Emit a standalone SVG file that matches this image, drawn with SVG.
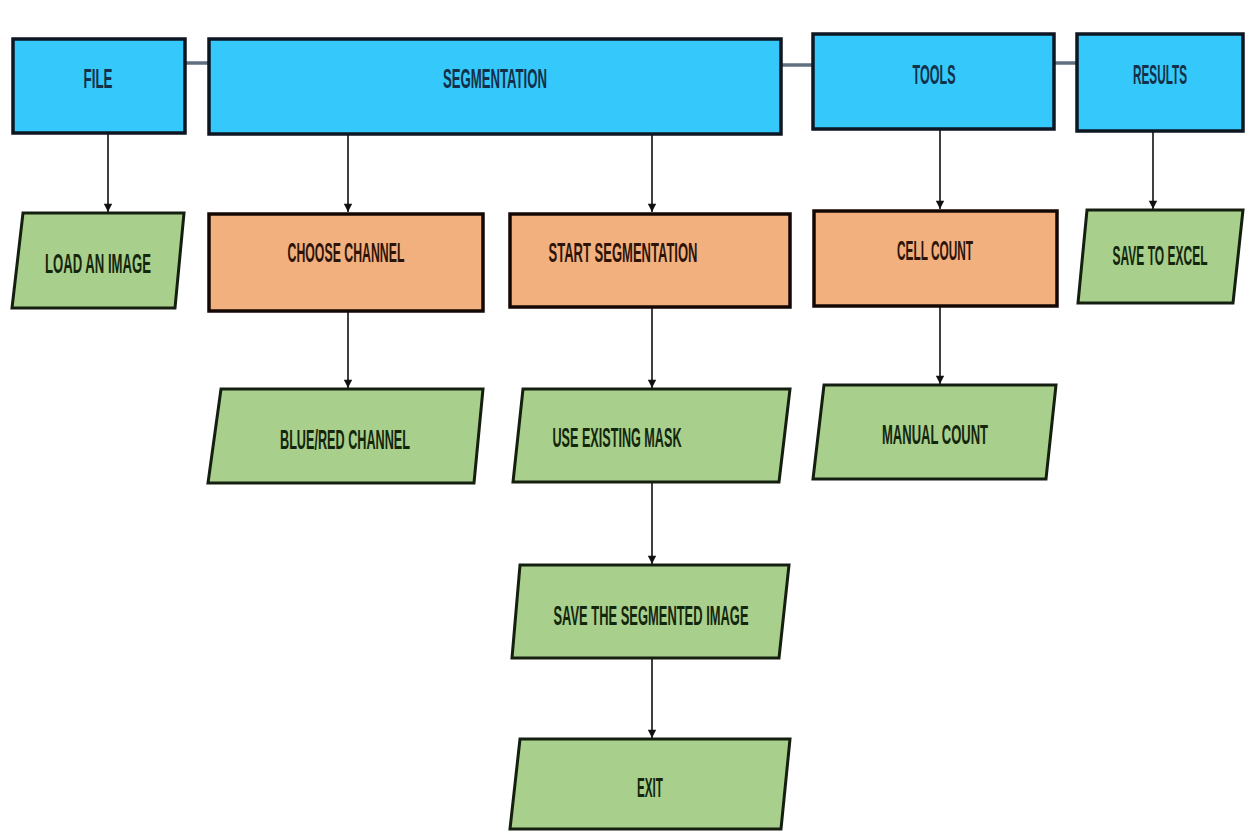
<svg xmlns="http://www.w3.org/2000/svg" width="1246" height="832" viewBox="0 0 1246 832">
  <defs>
    <marker id="arrow" viewBox="0 0 10 12" refX="10" refY="6" markerWidth="9" markerHeight="10" markerUnits="userSpaceOnUse" orient="auto">
      <path d="M0,1 L10,6 L0,11 Z" fill="#111"/>
    </marker>
    <style>
      .menu { fill: #35c9fb; stroke: #0e1622; stroke-width: 3.5; }
      .action { fill: #f3b07f; stroke: #140804; stroke-width: 3.5; }
      .io { fill: #a8d08c; stroke: #151f10; stroke-width: 3; }
      .label { font-family: "Liberation Sans Narrow", "Liberation Sans", Arial, sans-serif; font-weight: bold; font-size: 28px; text-anchor: middle; }
      .menu-t { fill: #14304a; }
      .action-t { fill: #2e1408; }
      .io-t { fill: #14260c; }
      .flow { stroke: #111; stroke-width: 1.6; fill: none; marker-end: url(#arrow); }
      .bar { stroke: #5f6f7e; stroke-width: 3.5; fill: none; }
    </style>
  </defs>

  <rect width="1246" height="832" fill="#ffffff"/>

  <!-- connectors -->
  <g id="connectors">
    <line class="bar" x1="185" y1="63" x2="209" y2="63"/>
    <line class="bar" x1="781" y1="65" x2="813" y2="65"/>
    <line class="bar" x1="1054" y1="63" x2="1077" y2="63"/>
    <line class="flow" x1="108" y1="134" x2="108" y2="212"/>
    <line class="flow" x1="348" y1="135" x2="348" y2="212"/>
    <line class="flow" x1="652" y1="135" x2="652" y2="212"/>
    <line class="flow" x1="940" y1="130" x2="940" y2="209"/>
    <line class="flow" x1="1153" y1="132" x2="1153" y2="209"/>
    <line class="flow" x1="348" y1="312" x2="348" y2="388"/>
    <line class="flow" x1="652" y1="308" x2="652" y2="388"/>
    <line class="flow" x1="940" y1="307" x2="940" y2="384"/>
    <line class="flow" x1="652" y1="483" x2="652" y2="564"/>
    <line class="flow" x1="652" y1="659" x2="652" y2="738"/>
  </g>

  <!-- menu bar -->
  <g id="file">
    <rect class="menu" x="13" y="39" width="172" height="94"/>
    <text class="label menu-t" x="98" y="88" textLength="29" lengthAdjust="spacingAndGlyphs">FILE</text>
  </g>
  <g id="segmentation">
    <rect class="menu" x="209" y="39" width="572" height="95"/>
    <text class="label menu-t" x="495" y="88" textLength="104" lengthAdjust="spacingAndGlyphs">SEGMENTATION</text>
  </g>
  <g id="tools">
    <rect class="menu" x="813" y="34" width="241" height="95"/>
    <text class="label menu-t" x="934" y="84" textLength="43" lengthAdjust="spacingAndGlyphs">TOOLS</text>
  </g>
  <g id="results">
    <rect class="menu" x="1077" y="34" width="166" height="97"/>
    <text class="label menu-t" x="1160" y="84" textLength="54" lengthAdjust="spacingAndGlyphs">RESULTS</text>
  </g>

  <!-- second row -->
  <g id="load-image">
    <polygon class="io" points="23,213 184,213 175,308 12,308"/>
    <text class="label io-t" x="98" y="273" textLength="106" lengthAdjust="spacingAndGlyphs">LOAD AN IMAGE</text>
  </g>
  <g id="choose-channel">
    <rect class="action" x="209" y="214" width="274" height="97"/>
    <text class="label action-t" x="346" y="262" textLength="117" lengthAdjust="spacingAndGlyphs">CHOOSE CHANNEL</text>
  </g>
  <g id="start-segmentation">
    <rect class="action" x="510" y="214" width="280" height="93"/>
    <text class="label action-t" x="623" y="262" textLength="149" lengthAdjust="spacingAndGlyphs">START SEGMENTATION</text>
  </g>
  <g id="cell-count">
    <rect class="action" x="814" y="211" width="243" height="95"/>
    <text class="label action-t" x="935" y="260" textLength="76" lengthAdjust="spacingAndGlyphs">CELL COUNT</text>
  </g>
  <g id="save-excel">
    <polygon class="io" points="1087,210 1243,210 1233,303 1078,303"/>
    <text class="label io-t" x="1160" y="265" textLength="95" lengthAdjust="spacingAndGlyphs">SAVE TO EXCEL</text>
  </g>

  <!-- third row -->
  <g id="blue-red-channel">
    <polygon class="io" points="221,389 483,389 474,483 208,483"/>
    <text class="label io-t" x="345" y="449" textLength="130" lengthAdjust="spacingAndGlyphs">BLUE/RED CHANNEL</text>
  </g>
  <g id="existing-mask">
    <polygon class="io" points="523,389 790,389 779,482 513,482"/>
    <text class="label io-t" x="617" y="447" textLength="129" lengthAdjust="spacingAndGlyphs">USE EXISTING MASK</text>
  </g>
  <g id="manual-count">
    <polygon class="io" points="824,385 1056,385 1046,479 813,479"/>
    <text class="label io-t" x="935" y="444" textLength="106" lengthAdjust="spacingAndGlyphs">MANUAL COUNT</text>
  </g>

  <!-- lower chain -->
  <g id="save-segmented">
    <polygon class="io" points="520,565 789,565 779,658 512,658"/>
    <text class="label io-t" x="651" y="625" textLength="195" lengthAdjust="spacingAndGlyphs">SAVE THE SEGMENTED IMAGE</text>
  </g>
  <g id="exit">
    <polygon class="io" points="520,739 790,739 781,829 510,829"/>
    <text class="label io-t" x="650" y="797" textLength="26" lengthAdjust="spacingAndGlyphs">EXIT</text>
  </g>
</svg>
